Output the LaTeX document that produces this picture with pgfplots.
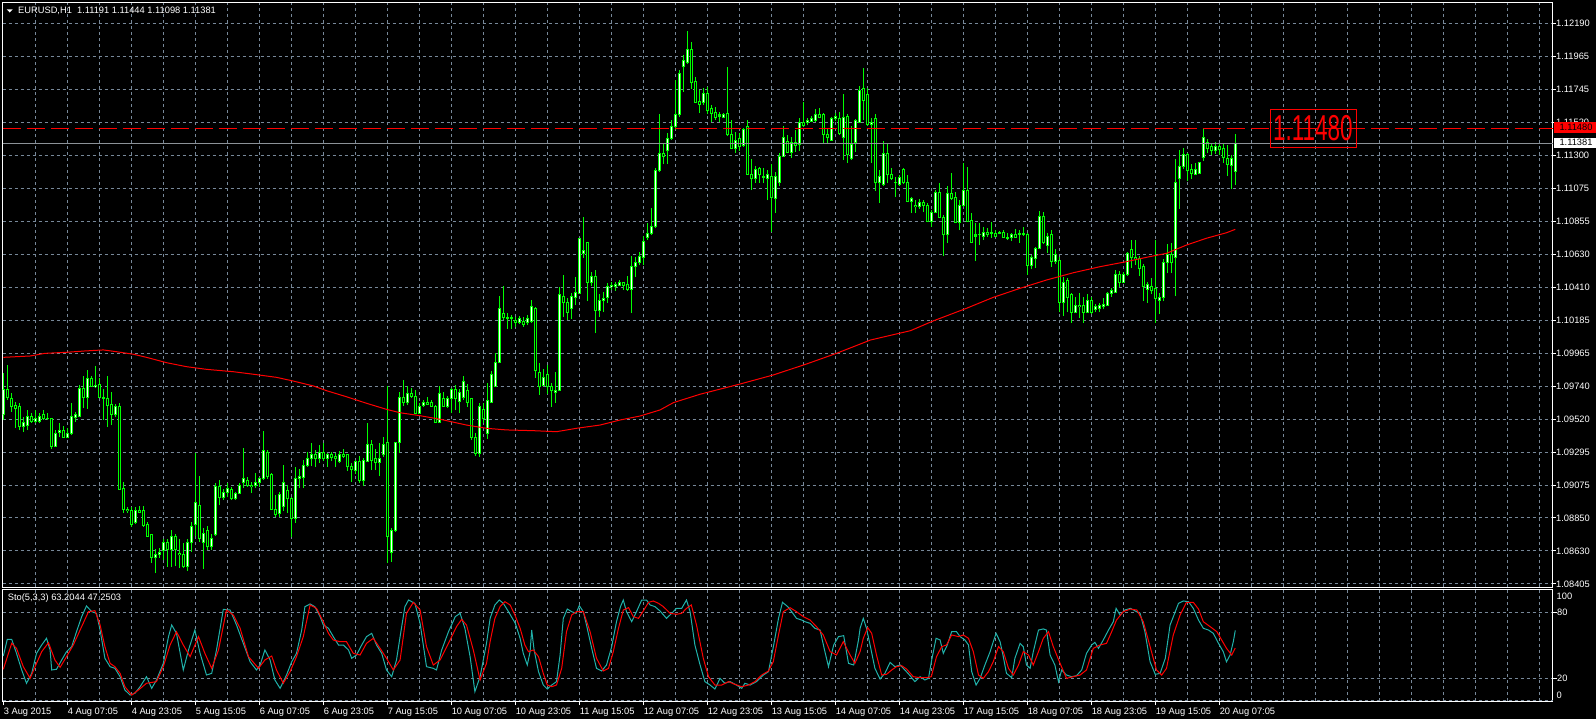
\documentclass[border=0pt]{standalone}
\usepackage{fontspec}
\setmainfont{Liberation Sans}
\usepackage{pgfplots}
\usepackage{pgfplotstable}
\pgfplotsset{compat=1.18}
\definecolor{gridc}{RGB}{119,136,153}
\definecolor{candle}{RGB}{0,255,0}
\definecolor{stok}{RGB}{32,178,170}
\definecolor{mtred}{RGB}{255,0,0}
\definecolor{bidc}{RGB}{140,146,152}
\newcommand{\lbl}{\fontsize{9.3pt}{11pt}\selectfont}

\pgfplotstableread{
i O H L C
0 1.09552 1.09829 1.09512 1.09721
1 1.09721 1.09883 1.09647 1.09667
2 1.09660 1.09694 1.09566 1.09606
3 1.09613 1.09633 1.09458 1.09593
4 1.09600 1.09627 1.09444 1.09471
5 1.09471 1.09532 1.09431 1.09492
6 1.09478 1.09579 1.09444 1.09539
7 1.09539 1.09559 1.09492 1.09505
8 1.09505 1.09579 1.09492 1.09519
9 1.09505 1.09559 1.09492 1.09539
10 1.09546 1.09579 1.09512 1.09525
11 1.09525 1.09559 1.09512 1.09519
12 1.09525 1.09525 1.09316 1.09336
13 1.09336 1.09444 1.09330 1.09424
14 1.09431 1.09492 1.09397 1.09444
15 1.09444 1.09471 1.09390 1.09397
16 1.09397 1.09458 1.09390 1.09424
17 1.09424 1.09627 1.09411 1.09539
18 1.09532 1.09566 1.09498 1.09546
19 1.09539 1.09748 1.09532 1.09728
20 1.09728 1.09809 1.09593 1.09667
21 1.09667 1.09849 1.09586 1.09795
22 1.09795 1.09809 1.09735 1.09741
23 1.09735 1.09876 1.09728 1.09748
24 1.09755 1.09795 1.09660 1.09667
25 1.09667 1.09721 1.09512 1.09660
26 1.09660 1.09809 1.09465 1.09613
27 1.09620 1.09701 1.09478 1.09552
28 1.09546 1.09620 1.09532 1.09600
29 1.09600 1.09627 1.09039 1.09046
30 1.09053 1.09093 1.08884 1.08911
31 1.08911 1.08925 1.08884 1.08898
32 1.08904 1.08925 1.08790 1.08810
33 1.08823 1.08925 1.08810 1.08904
34 1.08904 1.08931 1.08884 1.08891
35 1.08898 1.08931 1.08790 1.08803
36 1.08810 1.08823 1.08722 1.08729
37 1.08736 1.08742 1.08547 1.08587
38 1.08587 1.08641 1.08479 1.08607
39 1.08601 1.08648 1.08580 1.08621
40 1.08628 1.08709 1.08567 1.08688
41 1.08688 1.08709 1.08520 1.08641
42 1.08641 1.08769 1.08520 1.08729
43 1.08729 1.08742 1.08526 1.08641
44 1.08614 1.08709 1.08513 1.08601
45 1.08607 1.08682 1.08513 1.08520
46 1.08520 1.08709 1.08493 1.08682
47 1.08682 1.08823 1.08621 1.08790
48 1.08810 1.09289 1.08729 1.08952
49 1.08938 1.09134 1.08688 1.08715
50 1.08688 1.08783 1.08506 1.08749
51 1.08769 1.08796 1.08634 1.08655
52 1.08655 1.08742 1.08634 1.08715
53 1.08736 1.09087 1.08729 1.09060
54 1.09060 1.09107 1.08938 1.08992
55 1.08992 1.09046 1.08972 1.09026
56 1.09026 1.09087 1.08992 1.09053
57 1.09046 1.09060 1.08972 1.08979
58 1.08979 1.09026 1.08972 1.09019
59 1.09019 1.09087 1.09012 1.09073
60 1.09087 1.09323 1.09053 1.09114
61 1.09107 1.09127 1.09060 1.09073
62 1.09073 1.09093 1.09019 1.09060
63 1.09073 1.09154 1.09053 1.09087
64 1.09087 1.09127 1.09060 1.09120
65 1.09120 1.09438 1.09107 1.09309
66 1.09296 1.09309 1.09114 1.09134
67 1.09141 1.09154 1.08904 1.08911
68 1.08911 1.09006 1.08857 1.08877
69 1.08884 1.09026 1.08857 1.09006
70 1.08925 1.09208 1.08898 1.09087
71 1.09039 1.09073 1.08884 1.08979
72 1.08979 1.08992 1.08722 1.08850
73 1.08850 1.09195 1.08817 1.09120
74 1.09120 1.09181 1.09053 1.09134
75 1.09127 1.09242 1.09053 1.09208
76 1.09208 1.09296 1.09195 1.09255
77 1.09249 1.09357 1.09201 1.09276
78 1.09276 1.09309 1.09195 1.09255
79 1.09255 1.09343 1.09222 1.09296
80 1.09296 1.09357 1.09235 1.09249
81 1.09249 1.09289 1.09195 1.09276
82 1.09276 1.09296 1.09235 1.09262
83 1.09269 1.09289 1.09195 1.09249
84 1.09235 1.09303 1.09222 1.09282
85 1.09282 1.09316 1.09255 1.09269
86 1.09276 1.09276 1.09168 1.09195
87 1.09195 1.09222 1.09093 1.09181
88 1.09168 1.09242 1.09147 1.09235
89 1.09235 1.09269 1.09087 1.09107
90 1.09107 1.09255 1.09066 1.09242
91 1.09235 1.09492 1.09228 1.09350
92 1.09350 1.09377 1.09174 1.09242
93 1.09255 1.09316 1.09174 1.09228
94 1.09228 1.09357 1.09134 1.09255
95 1.09276 1.09397 1.09262 1.09350
96 1.09357 1.09741 1.08547 1.08729
97 1.08621 1.08783 1.08553 1.08769
98 1.08769 1.09357 1.08756 1.09357
99 1.09357 1.09701 1.09289 1.09667
100 1.09667 1.09782 1.09606 1.09627
101 1.09627 1.09741 1.09613 1.09694
102 1.09694 1.09728 1.09660 1.09674
103 1.09674 1.09714 1.09559 1.09559
104 1.09559 1.09627 1.09559 1.09606
105 1.09613 1.09647 1.09600 1.09633
106 1.09633 1.09667 1.09613 1.09620
107 1.09633 1.09647 1.09600 1.09606
108 1.09600 1.09613 1.09492 1.09498
109 1.09498 1.09741 1.09498 1.09694
110 1.09660 1.09701 1.09600 1.09606
111 1.09606 1.09674 1.09593 1.09660
112 1.09660 1.09728 1.09559 1.09721
113 1.09721 1.09748 1.09579 1.09654
114 1.09640 1.09721 1.09559 1.09701
115 1.09667 1.09809 1.09647 1.09775
116 1.09714 1.09755 1.09600 1.09633
117 1.09660 1.09660 1.09377 1.09397
118 1.09397 1.09424 1.09269 1.09289
119 1.09289 1.09627 1.09262 1.09600
120 1.09586 1.09627 1.09492 1.09525
121 1.09424 1.09762 1.09384 1.09647
122 1.09633 1.09843 1.09627 1.09816
123 1.09741 1.09964 1.09735 1.09903
124 1.09897 1.10349 1.09897 1.10268
125 1.10234 1.10416 1.10187 1.10207
126 1.10207 1.10234 1.10126 1.10200
127 1.10200 1.10221 1.10126 1.10207
128 1.10187 1.10207 1.10140 1.10173
129 1.10173 1.10214 1.10160 1.10194
130 1.10180 1.10207 1.10140 1.10160
131 1.10167 1.10221 1.10153 1.10200
132 1.10180 1.10322 1.10167 1.10281
133 1.10268 1.10275 1.09795 1.09849
134 1.09836 1.09897 1.09681 1.09735
135 1.09748 1.09856 1.09741 1.09802
136 1.09822 1.09883 1.09687 1.09735
137 1.09735 1.09762 1.09600 1.09708
138 1.09701 1.09836 1.09627 1.09714
139 1.09714 1.10410 1.09708 1.10362
140 1.10349 1.10491 1.10207 1.10302
141 1.10302 1.10335 1.10187 1.10241
142 1.10268 1.10369 1.10194 1.10349
143 1.10342 1.10477 1.10288 1.10376
144 1.10369 1.10740 1.10369 1.10734
145 1.10639 1.10882 1.10605 1.10659
146 1.10707 1.10713 1.10315 1.10443
147 1.10443 1.10511 1.10416 1.10484
148 1.10484 1.10524 1.10099 1.10254
149 1.10254 1.10362 1.10207 1.10322
150 1.10322 1.10376 1.10241 1.10335
151 1.10342 1.10437 1.10302 1.10416
152 1.10410 1.10443 1.10389 1.10423
153 1.10410 1.10443 1.10383 1.10430
154 1.10423 1.10457 1.10416 1.10437
155 1.10437 1.10443 1.10389 1.10423
156 1.10430 1.10484 1.10383 1.10396
157 1.10396 1.10619 1.10234 1.10545
158 1.10545 1.10612 1.10477 1.10572
159 1.10572 1.10646 1.10558 1.10619
160 1.10612 1.10754 1.10558 1.10720
161 1.10747 1.10842 1.10727 1.10774
162 1.10774 1.10943 1.10761 1.10815
163 1.10815 1.11213 1.10808 1.11199
164 1.11193 1.11577 1.11186 1.11314
165 1.11314 1.11375 1.11240 1.11294
166 1.11328 1.11449 1.11240 1.11415
167 1.11415 1.11537 1.11402 1.11496
168 1.11490 1.11807 1.11469 1.11577
169 1.11571 1.11874 1.11557 1.11854
170 1.11895 1.11976 1.11726 1.11942
171 1.11922 1.12138 1.11915 1.12016
172 1.12016 1.12063 1.11746 1.11787
173 1.11800 1.11827 1.11652 1.11658
174 1.11665 1.11739 1.11584 1.11645
175 1.11652 1.11753 1.11638 1.11719
176 1.11719 1.11760 1.11577 1.11598
177 1.11618 1.11638 1.11523 1.11584
178 1.11591 1.11625 1.11537 1.11557
179 1.11564 1.11591 1.11523 1.11571
180 1.11557 1.11584 1.11550 1.11577
181 1.11584 1.11895 1.11429 1.11436
182 1.11442 1.11537 1.11341 1.11348
183 1.11348 1.11456 1.11314 1.11402
184 1.11409 1.11449 1.11328 1.11355
185 1.11368 1.11483 1.11355 1.11476
186 1.11496 1.11537 1.11166 1.11172
187 1.11172 1.11274 1.11064 1.11139
188 1.11139 1.11226 1.11112 1.11206
189 1.11213 1.11220 1.11112 1.11166
190 1.11159 1.11213 1.11112 1.11152
191 1.11139 1.11199 1.10997 1.11172
192 1.11159 1.11240 1.10781 1.11017
193 1.11010 1.11186 1.10909 1.11159
194 1.11112 1.11314 1.11091 1.11294
195 1.11294 1.11496 1.11287 1.11422
196 1.11395 1.11436 1.11314 1.11321
197 1.11321 1.11422 1.11280 1.11388
198 1.11388 1.11469 1.11321 1.11368
199 1.11375 1.11550 1.11328 1.11523
200 1.11523 1.11658 1.11490 1.11503
201 1.11517 1.11550 1.11503 1.11537
202 1.11530 1.11564 1.11523 1.11544
203 1.11537 1.11611 1.11523 1.11577
204 1.11571 1.11618 1.11550 1.11557
205 1.11571 1.11584 1.11382 1.11442
206 1.11442 1.11483 1.11375 1.11422
207 1.11402 1.11557 1.11395 1.11544
208 1.11544 1.11584 1.11530 1.11564
209 1.11550 1.11591 1.11436 1.11449
210 1.11422 1.11712 1.11267 1.11557
211 1.11564 1.11577 1.11247 1.11301
212 1.11274 1.11496 1.11267 1.11375
213 1.11388 1.11544 1.11321 1.11537
214 1.11523 1.11766 1.11517 1.11733
215 1.11753 1.11888 1.11537 1.11672
216 1.11706 1.11753 1.11496 1.11510
217 1.11510 1.11550 1.11247 1.11523
218 1.11544 1.11577 1.11058 1.11112
219 1.11112 1.11199 1.10977 1.11159
220 1.11105 1.11395 1.11091 1.11314
221 1.11314 1.11375 1.11112 1.11166
222 1.11166 1.11213 1.11132 1.11145
223 1.11118 1.11152 1.11017 1.11112
224 1.11105 1.11166 1.11091 1.11152
225 1.11206 1.11213 1.11105 1.11112
226 1.11112 1.11166 1.10983 1.10990
227 1.10990 1.11017 1.10909 1.11004
228 1.10963 1.10997 1.10909 1.10950
229 1.10950 1.11004 1.10936 1.10977
230 1.10977 1.10997 1.10916 1.10963
231 1.10963 1.10977 1.10848 1.10855
232 1.10855 1.10929 1.10815 1.10916
233 1.10916 1.11064 1.10909 1.11051
234 1.11051 1.11112 1.10875 1.10882
235 1.10882 1.10896 1.10619 1.10761
236 1.10761 1.11091 1.10707 1.11044
237 1.11044 1.11179 1.10997 1.11010
238 1.11017 1.11051 1.10842 1.10848
239 1.10848 1.10997 1.10794 1.10963
240 1.10963 1.11247 1.10950 1.11058
241 1.11064 1.11220 1.10848 1.10855
242 1.10862 1.10909 1.10707 1.10713
243 1.10754 1.10842 1.10585 1.10761
244 1.10761 1.10842 1.10693 1.10767
245 1.10754 1.10815 1.10727 1.10781
246 1.10781 1.10808 1.10747 1.10767
247 1.10774 1.10848 1.10740 1.10781
248 1.10774 1.10794 1.10747 1.10754
249 1.10774 1.10788 1.10767 1.10781
250 1.10781 1.10794 1.10747 1.10747
251 1.10747 1.10774 1.10727 1.10740
252 1.10747 1.10774 1.10720 1.10767
253 1.10767 1.10801 1.10747 1.10747
254 1.10767 1.10794 1.10707 1.10774
255 1.10774 1.10815 1.10754 1.10767
256 1.10761 1.10774 1.10491 1.10558
257 1.10558 1.10626 1.10531 1.10612
258 1.10605 1.10680 1.10538 1.10673
259 1.10673 1.10923 1.10666 1.10889
260 1.10889 1.10916 1.10700 1.10707
261 1.10693 1.10774 1.10639 1.10754
262 1.10761 1.10794 1.10545 1.10585
263 1.10585 1.10666 1.10565 1.10632
264 1.10592 1.10612 1.10241 1.10308
265 1.10308 1.10477 1.10214 1.10437
266 1.10457 1.10470 1.10241 1.10342
267 1.10362 1.10369 1.10167 1.10241
268 1.10241 1.10342 1.10234 1.10288
269 1.10288 1.10369 1.10200 1.10275
270 1.10288 1.10342 1.10167 1.10241
271 1.10241 1.10362 1.10234 1.10322
272 1.10322 1.10342 1.10227 1.10241
273 1.10261 1.10295 1.10241 1.10275
274 1.10268 1.10302 1.10241 1.10288
275 1.10275 1.10335 1.10261 1.10295
276 1.10288 1.10376 1.10281 1.10369
277 1.10369 1.10403 1.10342 1.10389
278 1.10376 1.10524 1.10369 1.10491
279 1.10491 1.10518 1.10410 1.10443
280 1.10443 1.10511 1.10437 1.10497
281 1.10497 1.10646 1.10484 1.10639
282 1.10666 1.10727 1.10538 1.10612
283 1.10612 1.10727 1.10558 1.10599
284 1.10599 1.10619 1.10484 1.10538
285 1.10545 1.10565 1.10315 1.10410
286 1.10396 1.10443 1.10302 1.10430
287 1.10410 1.10470 1.10362 1.10383
288 1.10403 1.10727 1.10167 1.10335
289 1.10322 1.10369 1.10227 1.10342
290 1.10342 1.10599 1.10315 1.10572
291 1.10572 1.10700 1.10504 1.10632
292 1.10626 1.10707 1.10504 1.10572
293 1.10612 1.11274 1.10349 1.11118
294 1.11139 1.11334 1.10936 1.11220
295 1.11220 1.11348 1.11206 1.11301
296 1.11307 1.11314 1.11125 1.11193
297 1.11206 1.11240 1.11139 1.11179
298 1.11172 1.11247 1.11166 1.11206
299 1.11179 1.11253 1.11172 1.11247
300 1.11287 1.11476 1.11260 1.11422
301 1.11388 1.11409 1.11314 1.11348
302 1.11361 1.11382 1.11301 1.11328
303 1.11328 1.11388 1.11307 1.11361
304 1.11361 1.11382 1.11301 1.11341
305 1.11348 1.11375 1.11247 1.11287
306 1.11280 1.11368 1.11159 1.11240
307 1.11233 1.11301 1.11071 1.11280
308 1.11191 1.11444 1.11098 1.11381
}\candles

\begin{document}
\begin{tikzpicture}
\fill[black] (0pt,0pt) rectangle (1596pt,-719pt);
\useasboundingbox (0pt,0pt) rectangle (1596pt,-719pt);

% ---------------- main price panel ----------------
\begin{axis}[
  at={(2.7pt,-2.3pt)}, anchor=north west,
  scale only axis, width=1550.3pt, height=584.7pt,
  xmin=-0.15, xmax=387.425,
  ymin=1.083848, ymax=1.123315,
  axis line style={white, line width=1pt},
  xtick={8.1,16.1,...,384.2}, xticklabels={}, xmajorgrids,
  xtick style={draw=none},
  ytick={1.121897,1.119671,1.117445,1.115219,1.112993,1.110767,1.108541,1.106315,1.104089,1.101863,1.099637,1.097411,1.095185,1.092959,1.090733,1.088507,1.086281,1.084055},
  yticklabels={1.12190,1.11965,1.11745,1.11520,1.11300,1.11075,1.10855,1.10630,1.10410,1.10185,1.09965,1.09740,1.09520,1.09295,1.09075,1.08850,1.08630,1.08405},
  ymajorgrids,
  ytick pos=right, yticklabel pos=right,
  tick align=outside, major tick length=3pt,
  ytick style={white, line width=1pt},
  grid style={gridc, dash pattern=on 3pt off 3pt, line width=1pt},
  yticklabel style={font=\lbl, text=white, anchor=west, inner sep=0pt},
]
% wicks
\addplot[forget plot, draw=none, mark=none,
  error bars/.cd, y dir=plus, y explicit, error mark=none,
  error bar style={draw=candle, line width=1pt}]
  table[x=i, y=L, y error plus expr={\thisrow{H}-\thisrow{L}}] {\candles};
% bodies
\addplot[forget plot, draw=none, mark=none,
  error bars/.cd, y dir=plus, y explicit, error mark=none,
  error bar style={draw=candle, line width=3pt}]
  table[x=i, y expr={min(\thisrow{O},\thisrow{C})-0.0000338},
        y error plus expr={abs(\thisrow{C}-\thisrow{O})+0.0000675}] {\candles};
% bull fill
\addplot[forget plot, draw=none, mark=none,
  restrict expr to domain={\thisrow{C}-\thisrow{O}}{0.0001:1},
  error bars/.cd, y dir=plus, y explicit, error mark=none,
  error bar style={draw=white, line width=1pt}]
  table[x=i, y expr={\thisrow{O}+0.0000338},
        y error plus expr={\thisrow{C}-\thisrow{O}-0.0000675}] {\candles};
% bear fill
\addplot[forget plot, draw=none, mark=none,
  restrict expr to domain={\thisrow{O}-\thisrow{C}}{0.0001:1},
  error bars/.cd, y dir=plus, y explicit, error mark=none,
  error bar style={draw=black, line width=1pt}]
  table[x=i, y expr={\thisrow{C}+0.0000338},
        y error plus expr={\thisrow{O}-\thisrow{C}-0.0000675}] {\candles};
% moving average
\addplot[mtred, line width=1pt, mark=none] coordinates {
(0,1.09935) (6.7,1.09944) (10.4,1.09962) (15.8,1.09969) (20.4,1.09978) (25,1.09985) (28.3,1.09973) (32.5,1.09956) (35.8,1.09935) (40.8,1.09899) (45.8,1.09872) (50.8,1.09854) (57.5,1.09838) (62.5,1.09821) (68.3,1.09800) (72.5,1.09775) (77.5,1.09742) (80.8,1.09710) (85.8,1.09669) (90.8,1.09625) (95.8,1.09584) (99.2,1.09561) (104.2,1.09541) (109.2,1.09517) (115.8,1.09478) (120.8,1.09456) (125.8,1.09445) (132.5,1.09440) (138.3,1.09433) (143.3,1.09456) (149.2,1.09478) (154.2,1.09512) (159.2,1.09539) (164.2,1.09580) (167.5,1.09629) (174.2,1.09686) (184.2,1.09755) (192.5,1.09816) (200.8,1.09890) (208.3,1.09962) (216.8,1.10052) (226.8,1.10115) (232.6,1.10182) (240.8,1.10266) (247.5,1.10340) (254.2,1.10401) (260.8,1.10457) (267.5,1.10506) (274.2,1.10547) (280.8,1.10581) (285.8,1.10610) (290.8,1.10637) (295.8,1.10693) (300.8,1.10739) (305.8,1.10776) (308,1.10799)};
% bid line and level line
\addplot[bidc, line width=1pt, mark=none] coordinates {(-0.15,1.11381) (387.425,1.11381)};
\addplot[mtred, line width=1.4pt, mark=none, dash pattern=on 18pt off 6pt] coordinates {(-0.15,1.11480) (387.425,1.11480)};
\node[draw=mtred, line width=0.6pt, text=mtred, minimum width=86pt, minimum height=38.5pt, inner sep=0pt,
  font=\fontsize{36pt}{40pt}\selectfont] at (axis cs:327.4,1.11480) {\scalebox{0.625}[1]{1.11480}};
\end{axis}

% ---------------- stochastic panel ----------------
\begin{axis}[
  at={(2.7pt,-589pt)}, anchor=north west,
  scale only axis, width=1550.3pt, height=112pt,
  xmin=-0.15, xmax=387.425,
  ymin=-0.909, ymax=100.909,
  axis line style={white, line width=1pt},
  xtick={0,16,...,304},
  xticklabels={3 Aug 2015, 4 Aug 07:05, 4 Aug 23:05, 5 Aug 15:05, 6 Aug 07:05, 6 Aug 23:05, 7 Aug 15:05, 10 Aug 07:05, 10 Aug 23:05, 11 Aug 15:05, 12 Aug 07:05, 12 Aug 23:05, 13 Aug 15:05, 14 Aug 07:05, 14 Aug 23:05, 17 Aug 15:05, 18 Aug 07:05, 18 Aug 23:05, 19 Aug 15:05, 20 Aug 07:05},
  xtick pos=bottom, tick align=outside, major tick length=4pt,
  xtick style={white, line width=1pt},
  xticklabel style={font=\lbl, text=white, anchor=north west, inner sep=0pt, xshift=0.3pt, yshift=-3pt},
  extra x ticks={8.1,16.1,...,384.2}, extra x tick labels={},
  extra x tick style={grid=major, major tick length=0pt},
  ytick={20,80}, yticklabels={20,80},
  ymajorgrids, ytick pos=right, yticklabel pos=right,
  ytick style={white, line width=1pt},
  yticklabel style={font=\lbl, text=white, anchor=west, inner sep=0pt},
  extra y ticks={0}, extra y tick labels={},
  extra y tick style={grid=major, major tick length=0pt},
  grid style={gridc, dash pattern=on 3pt off 3pt, line width=1pt},
]
\addplot[stok, line width=1pt, mark=none] coordinates {
(0,40.0) (1,55.2) (2.1,55.2) (3.3,42.4) (4.6,27.3) (5.8,15.2) (7.1,24.2) (8.3,42.4) (9.6,50.0) (10.8,56.1) (11.7,45.5) (12.1,27.3) (13.3,27.9) (14.6,36.4) (15.8,43.9) (17.1,48.5) (18.3,62.1) (19.6,75.8) (20.8,85.5) (22.1,80.3) (23.3,78.8) (24.2,63.6) (25.4,37.9) (26.7,30.3) (27.9,28.8) (29.2,21.2) (30.4,9.1) (31.7,4.5) (32.9,6.1) (34.2,12.1) (35.8,21.2) (37.1,10.6) (38.3,18.2) (40.0,33.3) (41.3,57.6) (42.1,68.2) (43.3,60.6) (45.0,27.3) (46.3,45.5) (47.9,63.6) (49.2,42.4) (50.8,22.7) (52.1,24.2) (53.3,45.5) (55.0,82.4) (56.7,81.8) (58.3,68.2) (60.0,51.5) (61.7,34.8) (63.3,27.3) (64.2,31.8) (65.4,45.5) (66.7,36.4) (67.9,18.2) (69.2,10.6) (70.8,22.7) (72.1,34.8) (73.3,42.4) (74.6,63.6) (75.4,84.8) (76.7,87.3) (77.9,84.8) (79.2,75.8) (80.0,68.2) (81.3,65.2) (82.5,57.6) (83.8,50.0) (85.0,50.0) (86.3,45.5) (87.1,37.9) (88.3,40.9) (89.6,50.0) (90.8,57.6) (92.1,60.6) (93.3,50.0) (94.6,42.4) (95.8,27.3) (97.1,21.2) (98.3,36.4) (99.2,57.6) (100.4,84.8) (101.3,90.9) (102.9,87.9) (104.2,69.7) (105.8,30.3) (107.5,28.8) (108.3,27.3) (109.6,45.5) (111.3,62.1) (113.0,75.8) (114.2,78.8) (115.4,65.2) (116.7,39.4) (117.9,7.6) (119.2,21.2) (120.8,51.5)
(121.7,74.2) (122.9,86.4) (124.0,90.9) (125.0,87.9) (126.3,80.3) (128.0,69.7) (129.2,56.1) (130.0,42.4) (131.0,31.8) (131.7,43.9) (132.1,63.6) (132.7,45.5) (133.8,25.8) (135.0,13.6) (136.0,10.0) (137.1,13.6) (138.3,16.7) (139.2,40.9) (140.0,74.2) (141.0,82.7) (142.1,80.3) (143.2,78.8) (144.0,85.8) (145.0,80.3) (145.8,68.2) (147.1,47.0) (148.3,28.8) (149.6,26.4) (150.8,31.8) (152.1,48.5) (153.3,71.2) (154.3,84.9) (155.0,90.9) (155.8,80.3) (157.1,71.2) (158.3,80.3) (159.6,90.9) (160.8,90.9) (161.7,86.4) (162.9,84.9) (164.2,80.9) (165.8,74.2) (167.1,78.8) (168.3,83.3) (169.6,83.3) (170.8,90.9) (171.7,80.3) (172.9,50.0) (174.2,31.8) (175.4,16.7) (176.7,13.6) (177.9,10.0) (179.2,19.7) (180.4,15.2) (181.7,16.7) (183.3,13.6) (184.6,10.6) (185.4,15.2) (186.7,13.6) (188.3,16.7) (190.0,22.7) (191.3,25.8) (192.6,50.0) (193.8,74.2) (194.8,88.8) (196.1,84.9) (197.1,80.3) (198.3,74.2) (199.6,72.7) (200.4,71.2) (201.7,69.7) (202.9,65.2) (204.2,63.6) (205.4,44.0) (206.3,30.3) (207.6,50.0) (208.8,57.6) (210.1,58.5) (211.3,33.3) (212.6,31.8) (213.8,54.6)
(214.2,65.2) (215.0,74.2) (215.8,65.2) (216.7,50.0) (217.9,28.8) (219.2,19.1) (220.4,24.2) (221.7,34.2) (222.9,30.3) (224.2,31.8) (225.4,27.3) (226.7,22.1) (227.9,16.7) (229.2,21.2) (230.4,18.2) (231.3,19.7) (232.1,36.4) (233.2,56.1) (234.2,54.6) (235.0,42.4) (236.0,50.0) (237.1,62.1) (238.3,62.1) (239.2,57.6) (240.4,54.6) (241.3,50.0) (242.1,25.8) (243.2,13.6) (244.2,19.7) (245.4,31.8) (246.7,43.9) (247.5,53.0) (248.2,60.6) (249.2,53.0) (250.0,39.4) (250.8,24.2) (252.1,20.3) (252.9,37.9) (254.2,51.5) (255.0,48.5) (255.8,31.8) (256.7,28.8) (257.5,43.9) (258.8,63.6) (260.0,64.6) (260.8,63.6) (261.7,40.9) (262.9,31.8) (263.8,16.7) (264.6,27.3) (265.8,22.7) (267.1,21.2) (268.3,22.1) (269.6,27.3) (270.8,42.4) (272.1,50.0) (272.9,52.4) (273.8,47.0) (275.0,54.6) (276.3,63.6) (277.5,71.2) (278.2,83.3) (279.2,77.3) (280.4,81.8) (281.8,83.3) (283.0,80.9) (284.2,78.8) (285.4,62.1) (286.7,34.8) (288.0,23.3) (289.2,24.2) (290.5,37.9) (291.7,68.2) (293.0,80.3) (293.8,87.9) (295.0,90.0) (296.3,89.4) (297.5,83.3) (298.8,72.7) (300.0,65.2) (301.3,63.6) (302.5,60.6) (303.8,51.5) (305.0,43.9) (305.8,34.8) (306.7,40.9) (307.5,53.0) (308,63.2)};
\addplot[mtred, line width=1pt, mark=none] coordinates {
(0,27.9) (2.1,51.5) (3.3,47.0) (5.0,30.3) (6.7,19.7) (8.3,33.3) (9.6,43.9) (11.3,52.1) (12.9,36.4) (14.2,29.7) (15.8,39.4) (17.5,50.0) (19.2,63.6) (21.3,80.3) (22.9,81.2) (24.2,68.2) (25.4,48.5) (26.7,33.3) (27.9,30.3) (29.2,24.2) (30.4,12.1) (32.1,4.5) (33.8,9.1) (35.8,15.2) (38.3,16.7) (40.0,30.3) (41.7,50.0) (43.3,62.1) (45.0,50.0) (46.7,39.4) (48.8,57.6) (50.4,42.4) (52.1,28.8) (53.8,45.5) (55.8,81.8) (57.5,77.3) (59.2,65.2) (61.3,39.4) (63.8,28.8) (65.4,36.4) (67.1,40.0) (68.3,27.3) (70.0,15.2) (71.7,25.8) (73.3,39.4) (75.0,57.6) (76.7,86.4) (78.3,83.3) (80.0,71.2) (81.3,60.6) (82.5,54.5) (84.2,53.0) (85.8,53.0) (87.5,42.4) (89.2,40.9) (90.8,51.5) (92.5,56.1) (94.2,47.0) (95.8,37.9) (97.5,27.3) (99.2,36.4) (100.8,78.8) (102.5,88.8) (104.2,81.8) (105.8,48.5) (107.5,31.8) (109.2,36.4) (111.3,51.5) (113.3,66.7) (114.6,73.3) (115.8,68.2) (117.5,45.5) (119.2,18.2) (120.8,33.3)
(121.7,53.0) (122.9,74.2) (124.2,84.9) (125.4,89.4) (126.7,86.4) (127.9,77.3) (129.2,65.2) (130.4,50.0) (131.3,43.9) (132.5,45.5) (133.8,39.4) (135.0,24.2) (136.0,13.6) (137.1,12.1) (138.3,13.6) (139.6,28.8) (140.8,62.1) (142.1,77.3) (143.3,80.3) (145.0,80.3) (146.7,62.1) (148.3,37.9) (150.0,26.4) (151.3,28.8) (152.5,43.9) (153.8,65.2) (155.0,81.8) (156.3,84.0) (157.5,75.8) (158.8,74.2) (160.0,80.9) (161.3,88.8) (162.5,90.0) (163.8,87.9) (165.0,84.9) (166.7,78.8) (168.3,77.9) (169.6,78.8) (170.8,83.3) (172.0,86.4) (173.3,68.2) (175.0,37.9) (176.3,21.2) (177.9,13.6) (179.6,13.6) (181.3,16.7) (182.9,14.2) (184.6,12.1) (186.3,13.6) (187.9,16.7) (189.6,22.7) (191.3,26.4) (192.5,34.9) (193.8,59.1) (195.0,80.3) (196.7,83.9) (198.3,80.3) (200.0,75.8) (201.7,72.7) (203.3,66.7) (205.0,59.1) (206.7,44.0) (208.3,40.9) (210.0,53.0) (211.7,40.9) (212.9,33.3)
(214.2,44.0) (215.0,56.1) (216.1,65.8) (217.1,60.6) (218.3,40.9) (219.6,22.7) (220.8,23.3) (222.1,27.3) (223.3,30.3) (224.6,31.2) (225.8,28.2) (227.5,21.2) (229.2,20.3) (230.8,20.3) (232.0,21.2) (233.3,39.4) (234.6,48.5) (235.8,50.0) (237.1,59.1) (238.8,57.6) (240.0,59.1) (241.3,56.1) (242.5,44.0) (243.8,22.7) (245.0,19.7) (246.3,25.8) (247.5,34.9) (248.8,48.5) (250.0,44.0) (251.3,28.8) (252.5,22.7) (253.8,31.8) (255.0,44.0) (256.3,40.9) (257.5,31.8) (258.8,44.0) (260.0,56.1) (261.3,62.1) (262.5,48.5) (264.2,33.3) (265.8,19.7) (267.5,21.2) (269.2,22.7) (270.8,27.3) (272.5,47.0) (274.2,50.0) (275.8,51.5) (277.1,62.1) (278.3,72.7) (280.0,80.3) (281.8,82.7) (283.4,81.8) (285.0,71.2) (286.7,48.5) (288.3,27.3) (289.6,22.7) (290.8,28.8) (292.5,59.1) (294.2,77.3) (295.8,88.8) (297.5,88.8) (298.8,82.7) (300.0,71.2) (301.7,66.7) (303.4,62.1) (304.6,54.5) (305.8,47.0) (307.1,40.9) (308,47.25)};
\end{axis}

% right-side price markers
\fill[mtred] (1554pt,-121.8pt) rectangle (1596pt,-132.8pt);
\node[anchor=west, inner sep=0pt, text=black, font=\lbl] at (1559.3pt,-127.3pt) {1.11480};
\fill[white] (1554pt,-137.7pt) rectangle (1596pt,-147.9pt);
\node[anchor=west, inner sep=0pt, text=black, font=\lbl] at (1559.3pt,-142.8pt) {1.11381};
% stochastic scale ends
\node[anchor=west, inner sep=0pt, text=white, font=\lbl] at (1556.5pt,-596pt) {100};
\node[anchor=west, inner sep=0pt, text=white, font=\lbl] at (1556.5pt,-695pt) {0};
% titles
\fill[white] (6.7pt,-9.3pt) -- (12.7pt,-9.3pt) -- (9.7pt,-12.5pt) -- cycle;
\node[anchor=west, inner sep=0pt, text=white, font=\lbl] at (18pt,-10.6pt) {EURUSD,H1\ \ 1.11191 1.11444 1.11098 1.11381};
\node[anchor=west, inner sep=0pt, text=white, font=\lbl] at (7.7pt,-598.3pt) {Sto(5,3,3) 63.2044 47.2503};
\end{tikzpicture}
\end{document}
